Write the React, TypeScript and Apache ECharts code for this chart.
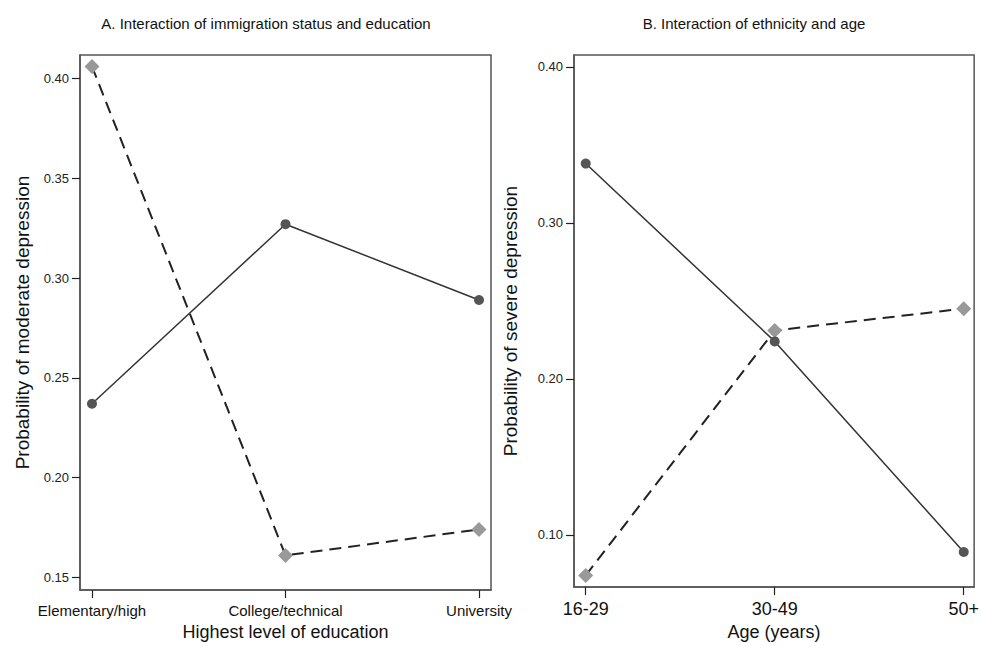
import React, { useEffect, useRef } from "react";
import * as echarts from "echarts";

const eduCategories = ["Elementary/high", "College/technical", "University"];
const eduSolid = [0.237, 0.327, 0.289];
const eduDashed = [0.406, 0.161, 0.174];
const eduTicks = [0.15, 0.2, 0.25, 0.3, 0.35, 0.4];

const ageCategories = ["16-29", "30-49", "50+"];
const ageSolid = [0.338, 0.224, 0.089];
const ageDashed = [0.074, 0.231, 0.245];
const ageTicks = [0.1, 0.2, 0.3, 0.4];

const FONT = "Liberation Sans, Arial, sans-serif";

const pairs = (vals: number[]) => vals.map((v, i) => [i, v]);

export default function App() {
  const ref = useRef<HTMLDivElement>(null);
  useEffect(() => {
    if (!ref.current) return;
    const chart = echarts.init(ref.current, null, { renderer: "svg" });
    const frameColor = "#555";
    const axisCommon = () => ({
      axisLine: { show: true, onZero: false, lineStyle: { color: frameColor, width: 1.5 } },
      splitLine: { show: false },
    });
    const tick = (vals: number[]) => ({
      show: true,
      length: 8,
      customValues: vals,
      lineStyle: { color: "#222", width: 1.2 },
    });
    const solidStyle = {
      type: "line",
      symbol: "circle",
      symbolSize: 10,
      itemStyle: { color: "#555" },
      lineStyle: { color: "#333", width: 1.5 },
      z: 3,
    };
    const dashedStyle = {
      type: "line",
      symbol: "diamond",
      symbolSize: [15, 15],
      itemStyle: { color: "#999" },
      lineStyle: { color: "#222", width: 2, type: [12, 7] },
      z: 2,
    };
    chart.setOption({
      animation: false,
      backgroundColor: "#fff",
      textStyle: { fontFamily: FONT },
      grid: [
        { left: 80, top: 55, width: 411, height: 544, show: true, borderColor: frameColor, borderWidth: 1.5, backgroundColor: "transparent" },
        { left: 574, top: 55, width: 407, height: 539, show: true, borderColor: frameColor, borderWidth: 1.5, backgroundColor: "transparent" },
      ],
      xAxis: [
        {
          gridIndex: 0,
          type: "value",
          min: -0.062,
          max: 2.062,
          ...axisCommon(),
          axisTick: tick([0, 1, 2]),
          axisLabel: {
            customValues: [0, 1, 2],
            formatter: (v: number) => eduCategories[Math.round(v)],
            fontSize: 15,
            color: "#111",
            margin: 13,
            fontFamily: FONT,
          },
          name: "Highest level of education",
          nameLocation: "middle",
          nameGap: 24,
          nameTextStyle: { fontSize: 18, color: "#111", fontFamily: FONT, verticalAlign: "top" },
        },
        {
          gridIndex: 1,
          type: "value",
          min: -0.062,
          max: 2.055,
          ...axisCommon(),
          axisTick: tick([0, 1, 2]),
          axisLabel: {
            customValues: [0, 1, 2],
            formatter: (v: number) => ageCategories[Math.round(v)],
            fontSize: 18,
            color: "#111",
            margin: 13,
            fontFamily: FONT,
          },
          name: "Age (years)",
          nameLocation: "middle",
          nameGap: 31,
          nameTextStyle: { fontSize: 18, color: "#111", fontFamily: FONT, verticalAlign: "top" },
        },
      ],
      yAxis: [
        {
          gridIndex: 0,
          type: "value",
          min: 0.1436,
          max: 0.4118,
          ...axisCommon(),
          axisTick: tick(eduTicks),
          axisLabel: {
            customValues: eduTicks,
            formatter: (v: number) => v.toFixed(2),
            fontSize: 13,
            color: "#222",
            margin: 11,
            fontFamily: FONT,
          },
          name: "Probability of moderate depression",
          nameLocation: "middle",
          nameGap: 48,
          nameTextStyle: { fontSize: 19, color: "#111", fontFamily: FONT },
        },
        {
          gridIndex: 1,
          type: "value",
          min: 0.0665,
          max: 0.4076,
          ...axisCommon(),
          axisTick: tick(ageTicks),
          axisLabel: {
            customValues: ageTicks,
            formatter: (v: number) => v.toFixed(2),
            fontSize: 13,
            color: "#222",
            margin: 11,
            fontFamily: FONT,
          },
          name: "Probability of severe depression",
          nameLocation: "middle",
          nameGap: 54,
          nameTextStyle: { fontSize: 19, color: "#111", fontFamily: FONT },
        },
      ],
      graphic: [
        {
          type: "text",
          x: 266,
          y: 23,
          style: {
            text: "A. Interaction of immigration status and education",
            fontSize: 15,
            fontFamily: FONT,
            fill: "#111",
            textAlign: "center",
            textVerticalAlign: "middle",
          },
        },
        {
          type: "text",
          x: 754,
          y: 23,
          style: {
            text: "B. Interaction of ethnicity and age",
            fontSize: 15,
            fontFamily: FONT,
            fill: "#111",
            textAlign: "center",
            textVerticalAlign: "middle",
          },
        },
      ],
      series: [
        { ...dashedStyle, name: "A dashed", xAxisIndex: 0, yAxisIndex: 0, data: pairs(eduDashed) },
        { ...solidStyle, name: "A solid", xAxisIndex: 0, yAxisIndex: 0, data: pairs(eduSolid) },
        { ...dashedStyle, name: "B dashed", xAxisIndex: 1, yAxisIndex: 1, data: pairs(ageDashed) },
        { ...solidStyle, name: "B solid", xAxisIndex: 1, yAxisIndex: 1, data: pairs(ageSolid) },
      ],
    });
    return () => chart.dispose();
  }, []);
  return (
    <div
      ref={ref}
      style={{ position: "fixed", left: 0, top: 0, width: 982, height: 646 }}
    />
  );
}
